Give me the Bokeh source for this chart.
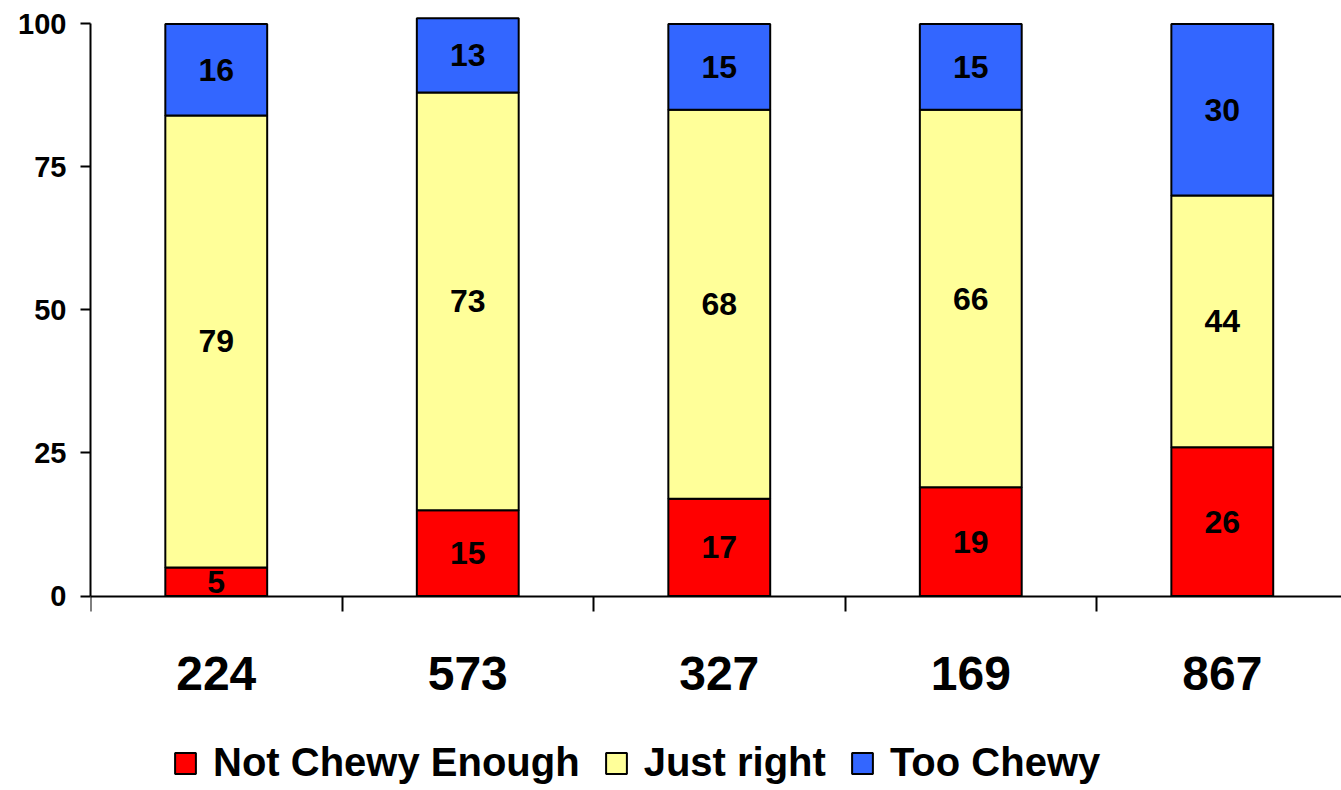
from bokeh.plotting import figure
from bokeh.models import ColumnDataSource, Range1d, FixedTicker, Legend, LegendItem
from bokeh.core.properties import value
from bokeh.embed import file_html
from bokeh.resources import INLINE

categories = ["224", "573", "327", "169", "867"]
not_chewy = [5, 15, 17, 19, 26]
just_right = [79, 73, 68, 66, 44]
too_chewy = [16, 13, 15, 15, 30]
series_names = ["Not Chewy Enough", "Just right", "Too Chewy"]
colors = ["#FF0000", "#FFFF99", "#3366FF"]
y_ticks = [0, 25, 50, 75, 100]

FONT = "Liberation Sans"
x = [i + 0.5 for i in range(len(categories))]

p = figure(width=1341, height=790, x_range=Range1d(0, 4.974), y_range=Range1d(-34.0, 102.0),
           output_backend="svg", toolbar_location=None,
           min_border_left=90, min_border_top=12, min_border_right=0, min_border_bottom=0)
p.outline_line_color = None
p.xgrid.visible = False
p.ygrid.visible = False

bottom = [0] * len(categories)
renderers = []
for vals, name, col in zip([not_chewy, just_right, too_chewy], series_names, colors):
    top = [b + v for b, v in zip(bottom, vals)]
    mid = [b + v / 2 for b, v in zip(bottom, vals)]
    src = ColumnDataSource(dict(x=x, bottom=bottom, top=top, mid=mid,
                                lab=[str(v) for v in vals]))
    r = p.vbar(x="x", bottom="bottom", top="top", width=0.405, source=src,
               fill_color=col, line_color="black", line_width=2)
    renderers.append((name, r))
    p.text(x="x", y="mid", text="lab", source=src, text_align="center",
           text_baseline="middle", text_font=value(FONT), text_font_size="32px",
           text_font_style="bold", text_color="black")
    bottom = top

# y axis
p.yaxis.ticker = FixedTicker(ticks=y_ticks)
p.yaxis.bounds = (0, 100)
p.yaxis.major_tick_out = 10
p.yaxis.major_tick_in = 0
p.yaxis.minor_tick_out = 0
p.yaxis.minor_tick_in = 0
p.yaxis.axis_line_width = 2
p.yaxis.major_tick_line_width = 2
p.yaxis.major_label_text_font = FONT
p.yaxis.major_label_text_font_style = "bold"
p.yaxis.major_label_text_font_size = "29px"
p.yaxis.major_label_text_color = "black"
p.yaxis.major_label_standoff = 14

# x axis, pinned at y = 0
p.xaxis.fixed_location = 0
p.xaxis.ticker = FixedTicker(ticks=x, minor_ticks=list(range(len(categories) + 1)))
p.xaxis.major_label_overrides = {xi: c for xi, c in zip(x, categories)}
p.xaxis.major_tick_out = 0
p.xaxis.major_tick_in = 0
p.xaxis.minor_tick_out = 15
p.xaxis.minor_tick_in = 0
p.xaxis.minor_tick_line_width = 2
p.xaxis.axis_line_width = 2
p.xaxis.major_label_text_font = FONT
p.xaxis.major_label_text_font_style = "bold"
p.xaxis.major_label_text_font_size = "48px"
p.xaxis.major_label_text_color = "black"
p.xaxis.major_label_standoff = 46

legend = Legend(items=[LegendItem(label=n, renderers=[r]) for n, r in renderers],
                orientation="horizontal", location=(82, 5),
                glyph_width=26, glyph_height=26, label_standoff=15, spacing=23,
                padding=0, margin=0, border_line_color=None, background_fill_alpha=0,
                label_text_font=FONT, label_text_font_style="bold",
                label_text_color="black",
                label_text_font_size="40px", label_height=40)
p.add_layout(legend, "center")

open("out.html", "w").write(file_html(p, INLINE))
